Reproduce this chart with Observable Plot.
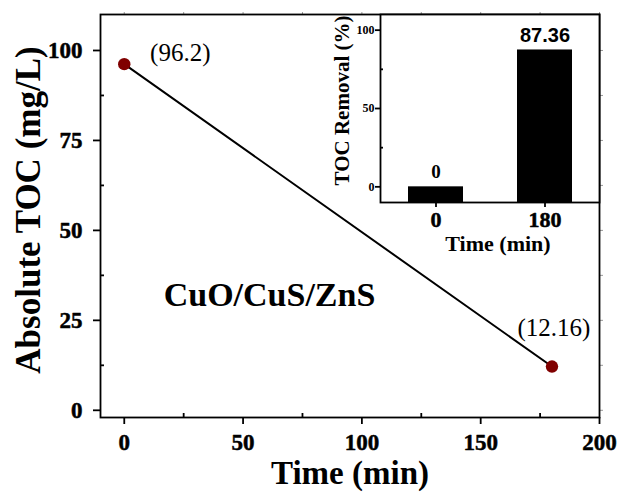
<!DOCTYPE html>
<html>
<head>
<meta charset="utf-8">
<script src="https://cdn.jsdelivr.net/npm/d3@7"></script>
<script src="https://cdn.jsdelivr.net/npm/@observablehq/plot@0.6"></script>
<style>
  html, body { margin: 0; padding: 0; background: white; overflow: hidden; }
  #chart { position: relative; width: 620px; height: 492px; }
</style>
</head>
<body>
<div id="chart"></div>
<script>
// Absolute TOC over time
const times = [0, 180];
const toc = [96.2, 12.16];
const xMajor = [0, 50, 100, 150, 200];
const xMinor = [25, 75, 125, 175];
const yMajor = [0, 25, 50, 75, 100];
const yMinor = [12.5, 37.5, 62.5, 87.5];
const sample = "CuO/CuS/ZnS";

// TOC removal (inset)
const insetTimes = ["0", "180"];
const removal = [0, 87.36];
const insetYMajor = [0, 50, 100];
const insetYMinor = [25, 75];
const insetYMin = -10;

const serif = "'Liberation Serif', 'Times New Roman', serif";
const sans = "'Liberation Sans', Arial, sans-serif";
const blank = () => "";
const bold = {fontWeight: "bold", fill: "black"};
// tick numbers: bold with a thin outline for a heavier face
const heavy = {fontWeight: "bold", fill: "black", stroke: "black", strokeWidth: 0.5};

const points = times.map((t, i) => ({time: t, toc: toc[i]}));
const insetRows = insetTimes.map((t, i) => ({time: t, removal: removal[i]}));

const main = Plot.plot({
  width: 620,
  height: 492,
  marginLeft: 100,
  marginRight: 21,
  marginTop: 14,
  marginBottom: 75,
  style: {fontFamily: serif, background: "white", color: "black"},
  x: {domain: [-10, 200], axis: null},
  y: {domain: [-2, 110], axis: null},
  marks: [
    // faint outer ticks on the top and right edges
    Plot.axisX([...xMajor, ...xMinor], {anchor: "top", tickSize: 3, stroke: "#999", tickFormat: blank, label: null}),
    Plot.axisY([...yMajor, ...yMinor], {anchor: "right", tickSize: 3, stroke: "#999", tickFormat: blank, label: null}),
    // bottom axis: major ticks outward, minor ticks inward
    Plot.axisX(xMajor, {anchor: "bottom", tickSize: 7, strokeWidth: 1.8, tickFormat: blank, label: null}),
    Plot.axisX(xMinor, {anchor: "bottom", tickSize: -4, strokeWidth: 1.8, tickFormat: blank, label: null}),
    Plot.text(xMajor, {x: d => d, text: d => `${d}`, frameAnchor: "bottom", lineAnchor: "top", dy: 16, fontSize: 23, ...heavy}),
    // left axis
    Plot.axisY(yMajor, {anchor: "left", tickSize: 7, strokeWidth: 1.8, tickFormat: blank, label: null}),
    Plot.axisY(yMinor, {anchor: "left", tickSize: -4, strokeWidth: 1.8, tickFormat: blank, label: null}),
    Plot.text(yMajor, {y: d => d, text: d => `${d}`, frameAnchor: "left", textAnchor: "end", dx: -18, fontSize: 23, ...heavy}),
    Plot.frame({strokeWidth: 1.8}),
    Plot.line(points, {x: "time", y: "toc", stroke: "black", strokeWidth: 2}),
    Plot.dot(points, {x: "time", y: "toc", r: 6.2, fill: "#800000", stroke: "none"}),
    // value annotations
    Plot.text(points.slice(0, 1), {x: "time", y: "toc", text: d => `(${d.toc})`, dx: 56, dy: -11, fontSize: 25, fill: "black"}),
    Plot.text(points.slice(1), {x: "time", y: "toc", text: d => `(${d.toc})`, dx: 2, dy: -39, fontSize: 25, fill: "black"}),
    Plot.text([sample], {text: d => d, frameAnchor: "top-left", textAnchor: "middle", lineAnchor: "middle", dx: 169, dy: 281, fontSize: 34, ...bold}),
    // axis titles
    Plot.text(["Time (min)"], {text: d => d, frameAnchor: "bottom", lineAnchor: "middle", dy: 56, fontSize: 33, ...bold}),
    Plot.text(["Absolute TOC (mg/L)"], {text: d => d, frameAnchor: "left", textAnchor: "middle", lineAnchor: "middle", rotate: -90, dx: -72, dy: -6, fontSize: 35, ...bold})
  ]
});

const inset = Plot.plot({
  width: 300,
  height: 260,
  marginLeft: 60,
  marginRight: 21,
  marginTop: 14,
  marginBottom: 58,
  style: {fontFamily: serif, background: "transparent", color: "black",
          position: "absolute", left: "320px", top: "0px"},
  x: {type: "band", domain: insetTimes, paddingInner: 0.5, paddingOuter: 0.25, axis: null},
  y: {domain: [insetYMin, 110], axis: null},
  marks: [
    Plot.frame({fill: "white", stroke: null}),
    Plot.barY(insetRows, {x: "time", y1: insetYMin, y2: "removal", fill: "black"}),
    Plot.axisX({anchor: "bottom", tickSize: 5, strokeWidth: 1.8, tickFormat: blank, label: null}),
    Plot.text(insetTimes, {x: d => d, text: d => d, frameAnchor: "bottom", lineAnchor: "top", dy: 9, fontSize: 22, ...heavy}),
    Plot.axisY(insetYMajor, {anchor: "left", tickSize: 5, strokeWidth: 1.8, tickFormat: blank, label: null}),
    Plot.axisY(insetYMinor, {anchor: "left", tickSize: -3, strokeWidth: 1.8, tickFormat: blank, label: null}),
    Plot.text(insetYMajor, {y: d => d, text: d => `${d}`, frameAnchor: "left", textAnchor: "end", dx: -6, fontSize: 12, ...bold}),
    Plot.frame({strokeWidth: 1.8}),
    // bar value labels
    Plot.text(insetRows.filter(d => d.removal === 0), {x: "time", y: "removal", text: d => `${d.removal}`, dy: -9, lineAnchor: "bottom", fontSize: 19, ...bold}),
    Plot.text(insetRows.filter(d => d.removal !== 0), {x: "time", y: "removal", text: d => `${d.removal}`, dy: -8, lineAnchor: "bottom", fontSize: 20, fontFamily: sans, ...bold}),
    Plot.text(["Time (min)"], {text: d => d, frameAnchor: "bottom", lineAnchor: "middle", dx: 8, dy: 41, fontSize: 22, ...bold}),
    Plot.text(["TOC Removal (%)"], {text: d => d, frameAnchor: "left", textAnchor: "middle", lineAnchor: "middle", rotate: -90, dx: -38, dy: -8, fontSize: 21, ...bold})
  ]
});

const chart = document.getElementById("chart");
chart.appendChild(main);
chart.appendChild(inset);
</script>
</body>
</html>
